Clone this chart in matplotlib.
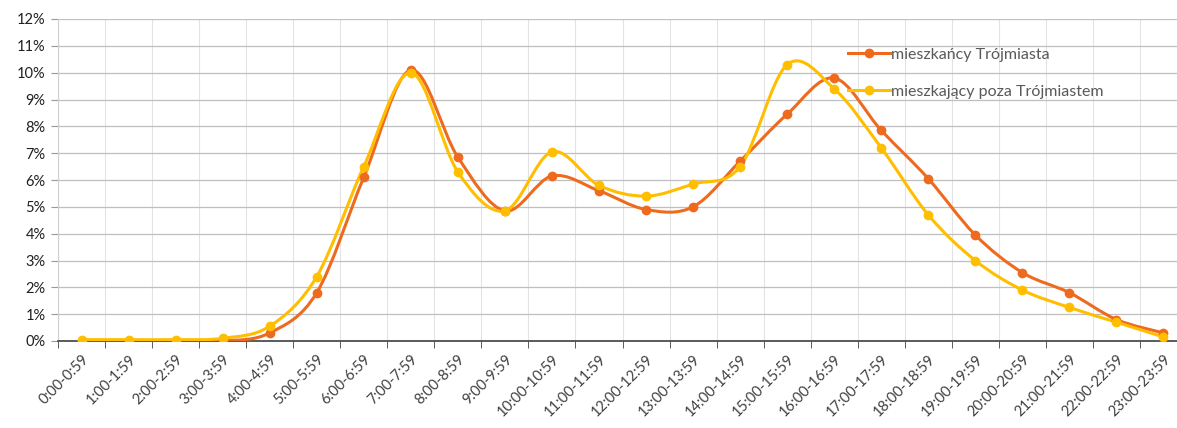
import numpy as np
import matplotlib
matplotlib.use("Agg")
import matplotlib.pyplot as plt
import matplotlib.transforms as mtransforms
from matplotlib.path import Path
from matplotlib.patches import PathPatch
from matplotlib.lines import Line2D
from matplotlib.ticker import FuncFormatter, MultipleLocator

plt.rcParams['font.family'] = ['Lato', 'DejaVu Sans']

# godziny (kategorie)
hours = [f"{h}:00-{h}:59" for h in range(24)]

# udział podróży w % (odczyt z wykresu)
trojmiasto = [0.0, 0.0, 0.0, 0.0, 0.3, 1.8, 6.1, 10.1, 6.85, 4.85, 6.15, 5.6,
              4.9, 5.0, 6.7, 8.45, 9.8, 7.85, 6.05, 3.95, 2.55, 1.8, 0.8, 0.3]
poza = [0.05, 0.05, 0.05, 0.1, 0.55, 2.4, 6.5, 10.0, 6.3, 4.85, 7.05, 5.8,
        5.4, 5.85, 6.5, 10.3, 9.4, 7.2, 4.7, 3.0, 1.9, 1.25, 0.7, 0.15]

labels = ["mieszkańcy Trójmiasta", "mieszkający poza Trójmiastem"]
colors = ["#EE6A1E", "#FFBE00"]


def smooth_path(x, y):
    # krzywa jak "wygładzona linia" w Excelu (Bezier, Catmull-Rom)
    pts = np.column_stack([x, y]).astype(float)
    n = len(pts)
    verts = [pts[0]]
    codes = [Path.MOVETO]
    for i in range(n - 1):
        p0 = pts[max(i - 1, 0)]
        p1 = pts[i]
        p2 = pts[i + 1]
        p3 = pts[min(i + 2, n - 1)]
        c1 = p1 + (p2 - p0) / 6.0
        c2 = p2 - (p3 - p1) / 6.0
        verts += [c1, c2, p2]
        codes += [Path.CURVE4] * 3
    return Path(verts, codes)


fig = plt.figure(figsize=(11.77, 4.28), dpi=100)
ax = fig.add_axes([58 / 1177, (428 - 341) / 428, 1129 / 1177, 322 / 428])

x = np.arange(len(hours))
for vals, col, lab in zip([trojmiasto, poza], colors, labels):
    patch = PathPatch(smooth_path(x, vals), facecolor='none', edgecolor=col,
                      lw=2.2, zorder=3)
    ax.add_patch(patch)
    ax.plot(x, vals, 'o', color=col, ms=6, zorder=4)

ax.set_xlim(-0.5, len(hours) - 0.5)
ax.set_ylim(0, 12)
ax.yaxis.set_major_locator(MultipleLocator(1))
ax.yaxis.set_major_formatter(FuncFormatter(lambda v, p: f"{v:.0f}%"))

ax.set_xticks(x)
ax.set_xticklabels(hours, rotation=45, ha='right', rotation_mode='anchor',
                   fontsize=10.5, color='#404040')
shift = mtransforms.ScaledTranslation(14 / 100, 0, fig.dpi_scale_trans)
for lbl in ax.get_xticklabels():
    lbl.set_transform(lbl.get_transform() + shift)
ax.set_xticks(np.arange(len(hours) + 1) - 0.5, minor=True)
ax.tick_params(axis='x', which='major', length=0, pad=8)
ax.tick_params(axis='x', which='minor', length=5, color='#404040')
ax.tick_params(axis='y', length=5, color='#999999', labelsize=10.5,
               labelcolor='#202020', pad=4)

ax.grid(axis='y', color='#BFBFBF', lw=0.9)
ax.grid(axis='x', which='minor', color='#E3E3E3', lw=0.8)
ax.set_axisbelow(True)

for s in ['top', 'right']:
    ax.spines[s].set_visible(False)
ax.spines['left'].set_color('#D0D0D0')
ax.spines['bottom'].set_color('#404040')
ax.spines['bottom'].set_linewidth(1.2)

handles = [Line2D([], [], color=c, lw=2.2, marker='o', ms=6) for c in colors]
leg = ax.legend(handles, labels, loc='upper left',
                bbox_to_anchor=(0.687, 0.955), frameon=False,
                handlelength=2.6, handletextpad=0.1, labelspacing=1.4,
                prop={'size': 11.5})
for t in leg.get_texts():
    t.set_color('#595959')

fig.savefig("out.png", dpi=100)
